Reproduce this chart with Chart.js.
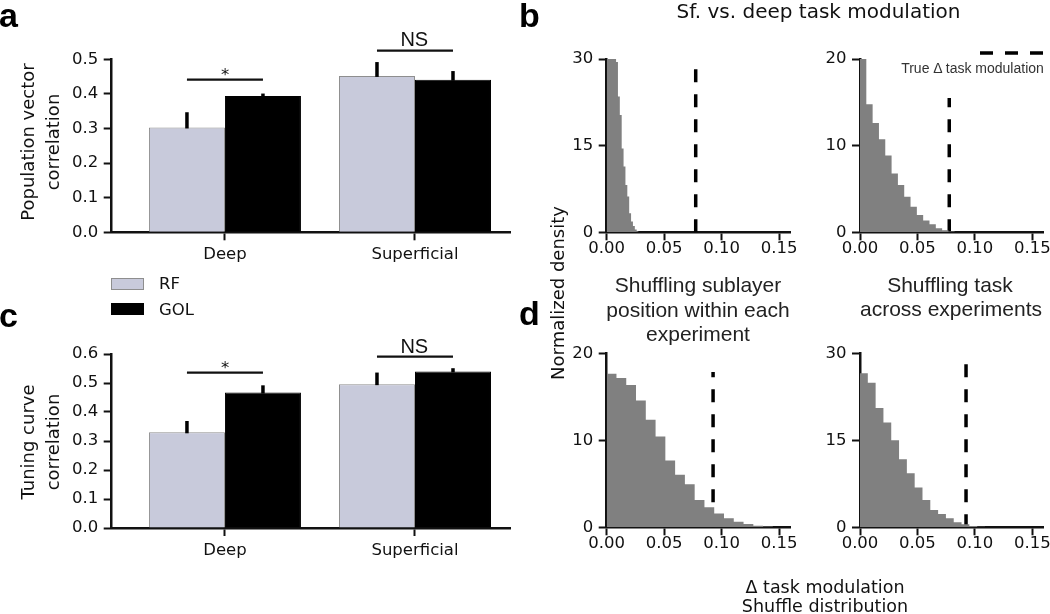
<!DOCTYPE html>
<html>
<head>
<meta charset="utf-8">
<script src="https://cdn.jsdelivr.net/npm/chart.js@4.4.1/dist/chart.umd.min.js"></script>
<style>
  html, body { margin: 0; padding: 0; background: #fff; }
  body { position: relative; width: 1050px; height: 614px; overflow: hidden; font-family: 'DejaVu Sans', sans-serif; color: #111; }
  .box { position: absolute; }
  .t { position: absolute; white-space: nowrap; line-height: 1; transform: translate(-50%, -50%); }
  .rot { transform: translate(-50%, -50%) rotate(-90deg); }
  .hv { font-family: 'Liberation Sans', Arial, sans-serif; color: #222; }
  .letter { position: absolute; font: bold 34px 'Liberation Sans', Arial, sans-serif; line-height: 34px; color: #000; }
  .key { position: absolute; width: 33px; height: 12px; box-sizing: border-box; }
</style>
</head>
<body>

<div class="box"><canvas id="pvChart"></canvas></div>
<div class="box"><canvas id="tcChart"></canvas></div>
<div class="box"><canvas id="bLeft"></canvas></div>
<div class="box"><canvas id="bRight"></canvas></div>
<div class="box"><canvas id="dLeft"></canvas></div>
<div class="box"><canvas id="dRight"></canvas></div>

<!-- panel letters -->
<div class="letter" style="left:-1px; top:-2px">a</div>
<div class="letter" style="left:-1px; top:298px">c</div>
<div class="letter" style="left:519px; top:-2px">b</div>
<div class="letter" style="left:519px; top:296px">d</div>

<!-- bar panels text -->
<div class="t rot" style="left:28.3px; top:141.7px; font-size:18px">Population vector</div>
<div class="t rot" style="left:53.3px; top:141.7px; font-size:18px">correlation</div>
<div class="t rot" style="left:28.3px; top:441.7px; font-size:18px">Tuning curve</div>
<div class="t rot" style="left:53.3px; top:441.7px; font-size:18px">correlation</div>
<div class="t" style="left:225px; top:75.4px; font-size:16.5px">*</div>
<div class="t hv" style="left:414.3px; top:38.7px; font-size:20px; color:#111">NS</div>
<div class="t" style="left:225px; top:368px; font-size:16.5px">*</div>
<div class="t hv" style="left:414.3px; top:345.5px; font-size:20px; color:#111">NS</div>

<div class="key" style="left:111px; top:278px; background:#c8cadb; border:1px solid #8e8e8e"></div>
<div class="t" style="left:159px; top:284px; font-size:16.5px; transform:translate(0,-50%)">RF</div>
<div class="key" style="left:111px; top:303.3px; background:#000"></div>
<div class="t" style="left:159px; top:309.5px; font-size:16.5px; transform:translate(0,-50%)">GOL</div>

<!-- histogram panels text -->
<div class="t" style="left:818.5px; top:10.5px; font-size:20px">Sf. vs. deep task modulation</div>
<div class="t rot" style="left:558.3px; top:293px; font-size:18px">Normalized density</div>
<svg style="position:absolute; left:975px; top:47px" width="75" height="12">
  <line x1="5" y1="6" x2="70" y2="6" stroke="#000" stroke-width="3.3" stroke-dasharray="13 12"></line>
</svg>
<div class="t hv" style="left:972.5px; top:68.3px; font-size:14px; color:#333">True Δ task modulation</div>
<div class="t hv" style="left:698px; top:283.7px; font-size:21px">Shuffling sublayer</div>
<div class="t hv" style="left:698px; top:308.7px; font-size:21px">position within each</div>
<div class="t hv" style="left:698px; top:332.5px; font-size:21px">experiment</div>
<div class="t hv" style="left:950px; top:283.7px; font-size:21px">Shuffling task</div>
<div class="t hv" style="left:951px; top:308.3px; font-size:21px">across experiments</div>
<div class="t" style="left:825px; top:588px; font-size:17.5px">Δ task modulation</div>
<div class="t" style="left:825px; top:607px; font-size:17.5px">Shuffle distribution</div>

<script>
// ---- panel a / c : bar data ----
var barLabels = ['Deep', 'Superficial'];
var barX = [0, 1];

var pvRF = [0.303, 0.452];
var pvRFErr = [0.347, 0.492];
var pvGOL = [0.394, 0.441];
var pvGOLErr = [0.401, 0.466];
var pvSig = [0.441, 0.525];
var pvTicks = [0, 0.1, 0.2, 0.3, 0.4, 0.5];

var tcRF = [0.330, 0.496];
var tcRFErr = [0.369, 0.536];
var tcGOL = [0.467, 0.540];
var tcGOLErr = [0.492, 0.551];
var tcSig = [0.5355, 0.591];
var tcTicks = [0, 0.1, 0.2, 0.3, 0.4, 0.5, 0.6];

// ---- panel b / d : shuffle histograms ----
var histTicks = [0, 0.05, 0.10, 0.15];

var sublayerBWidth = 0.00163;
var sublayerB = [30, 30, 30, 30, 30, 29.5, 23.5, 20.3, 14.5, 11.4, 8.2, 6.2, 3.3, 1.85, 1.1, 0.5, 0.17];
var sublayerBTrue = [0.0774, 28.5];
var sublayerBTicks = [0, 15, 30];

var taskBWidth = 0.0055;
var taskB = [20, 14.77, 12.6, 10.75, 8.85, 6.8, 5.46, 4.1, 2.96, 2.0, 1.35, 0.92, 0.46, 0.23, 0.08];
var taskBTrue = [0.0777, 15.5];
var taskBTicks = [0, 10, 20];

var sublayerDWidth = 0.0085;
var sublayerD = [17.7, 17.2, 16.4, 14.6, 12.4, 10.45, 7.7, 6.04, 4.96, 3.15, 2.3, 1.6, 1.04, 0.65, 0.37, 0.19, 0.08];
var sublayerDTrue = [0.0925, 17.9];
var sublayerDTicks = [0, 10, 20];

var taskDWidth = 0.0068;
var taskD = [26.6, 25.0, 20.6, 18.1, 15.05, 11.77, 9.35, 6.87, 4.73, 3.0, 2.3, 1.56, 0.87, 0.52, 0.23, 0.1];
var taskDTrue = [0.0923, 28.3];
var taskDTicks = [0, 15, 30];

Chart.defaults.font.family = "'DejaVu Sans', sans-serif";
Chart.defaults.font.size = 16.5;
Chart.defaults.color = '#111';

// place the canvas box and work out padding so the plot area lands where wanted
function setup(id, frame, area) {
  var wrap = document.getElementById(id).parentNode;
  wrap.style.left = frame[0] + 'px';
  wrap.style.top = frame[1] + 'px';
  wrap.style.width = frame[2] + 'px';
  wrap.style.height = frame[3] + 'px';
  return {
    padding: { left: 0, bottom: 0, top: area[1] - frame[1], right: frame[0] + frame[2] - area[2] },
    yWidth: area[0] - frame[0],
    xHeight: frame[1] + frame[3] - area[3]
  };
}

function axis(extra, ticks, fmt, pad, fit) {
  return Object.assign({
    offset: false,
    border: { color: '#111', width: 2.5 },
    grid: { offset: false, drawOnChartArea: false, tickLength: 8, tickWidth: 2, tickColor: '#111' },
    ticks: { color: '#111', padding: pad, autoSkip: false, maxRotation: 0, callback: fmt },
    afterBuildTicks: function (s) { s.ticks = ticks.map(function (v) { return { value: v }; }); },
    afterFit: fit
  }, extra);
}

var errorBars = {
  id: 'errorBars',
  afterDatasetsDraw: function (chart) {
    var ctx = chart.ctx, y = chart.scales.y;
    ctx.save();
    ctx.strokeStyle = '#000';
    ctx.lineWidth = 3.5;
    chart.data.datasets.forEach(function (ds, i) {
      chart.getDatasetMeta(i).data.forEach(function (bar, j) {
        ctx.beginPath();
        ctx.moveTo(bar.x, bar.y + 1);
        ctx.lineTo(bar.x, y.getPixelForValue(ds.errTop[j]));
        ctx.stroke();
      });
    });
    ctx.restore();
  }
};

var sigLines = {
  id: 'sigLines',
  afterDraw: function (chart, args, opts) {
    var ctx = chart.ctx, y = chart.scales.y;
    var a = chart.getDatasetMeta(0).data, b = chart.getDatasetMeta(1).data;
    ctx.save();
    ctx.strokeStyle = '#111';
    ctx.lineWidth = 2.3;
    opts.levels.forEach(function (v, j) {
      var py = y.getPixelForValue(v);
      ctx.beginPath();
      ctx.moveTo(a[j].x, py);
      ctx.lineTo(b[j].x, py);
      ctx.stroke();
    });
    ctx.restore();
  }
};

function barChart(id, frame, area, rf, rfErr, gol, golErr, sig, yTicks) {
  var L = setup(id, frame, area);
  new Chart(document.getElementById(id), {
    type: 'bar',
    data: {
      datasets: [{
        label: 'RF',
        data: barX.map(function (x, i) { return { x: x, y: rf[i] }; }),
        errTop: rfErr,
        backgroundColor: '#c8cadb',
        borderColor: '#8e8e8e',
        borderWidth: 1,
        categoryPercentage: 0.8,
        barPercentage: 1
      }, {
        label: 'GOL',
        data: barX.map(function (x, i) { return { x: x, y: gol[i] }; }),
        errTop: golErr,
        backgroundColor: '#000',
        borderColor: '#000',
        borderWidth: 1,
        categoryPercentage: 0.8,
        barPercentage: 1
      }]
    },
    options: {
      animation: false,
      responsive: true,
      maintainAspectRatio: false,
      events: [],
      layout: { padding: L.padding },
      plugins: { legend: { display: false }, tooltip: { enabled: false }, sigLines: { levels: sig } },
      scales: {
        x: axis({ type: 'linear', min: -0.596, max: 1.5 }, barX,
          function (v) { return barLabels[v]; }, 5,
          function (s) { s.height = L.xHeight; }),
        y: axis({ min: 0, max: yTicks[yTicks.length - 1] }, yTicks,
          function (v) { return v.toFixed(1); }, 5.5,
          function (s) { s.width = L.yWidth; })
      }
    },
    plugins: [errorBars, sigLines]
  });
}

function histChart(id, frame, area, binW, heights, trueMod, yTicks) {
  var L = setup(id, frame, area);
  var steps = heights.map(function (h, i) { return { x: i * binW, y: h }; });
  steps.push({ x: heights.length * binW, y: 0 });
  new Chart(document.getElementById(id), {
    type: 'line',
    data: {
      datasets: [{
        data: steps,
        stepped: true,
        fill: 'origin',
        backgroundColor: '#808080',
        borderColor: 'rgba(0,0,0,0)',
        borderWidth: 0,
        pointRadius: 0
      }, {
        data: [{ x: trueMod[0], y: 0 }, { x: trueMod[0], y: trueMod[1] }],
        borderColor: '#000',
        borderWidth: 3.5,
        borderDash: [13, 12],
        borderCapStyle: 'butt',
        fill: false,
        pointRadius: 0
      }]
    },
    options: {
      animation: false,
      responsive: true,
      maintainAspectRatio: false,
      events: [],
      layout: { padding: L.padding },
      plugins: { legend: { display: false }, tooltip: { enabled: false } },
      scales: {
        x: axis({ type: 'linear', min: 0, max: 0.16 }, histTicks,
          function (v) { return v.toFixed(2); }, -1.5,
          function (s) { s.height = L.xHeight; }),
        y: axis({ min: 0, max: yTicks[yTicks.length - 1] }, yTicks,
          function (v) { return String(v); }, 5.5,
          function (s) { s.width = L.yWidth; })
      }
    }
  });
}

barChart('pvChart', [0, 0, 520, 275], [111.7, 59.3, 510, 232.3], pvRF, pvRFErr, pvGOL, pvGOLErr, pvSig, pvTicks);
barChart('tcChart', [0, 290, 520, 300], [111.7, 354, 510, 528], tcRF, tcRFErr, tcGOL, tcGOLErr, tcSig, tcTicks);

histChart('bLeft', [520, 0, 285, 275], [606.7, 59, 790.7, 232.3], sublayerBWidth, sublayerB, sublayerBTrue, sublayerBTicks);
histChart('bRight', [790, 0, 265, 275], [860, 59, 1043.8, 232.3], taskBWidth, taskB, taskBTrue, taskBTicks);
histChart('dLeft', [520, 290, 285, 300], [606.7, 353.7, 790.7, 527.3], sublayerDWidth, sublayerD, sublayerDTrue, sublayerDTicks);
histChart('dRight', [790, 290, 265, 300], [860, 353.7, 1043.8, 527.3], taskDWidth, taskD, taskDTrue, taskDTicks);
</script>
</body>
</html>
